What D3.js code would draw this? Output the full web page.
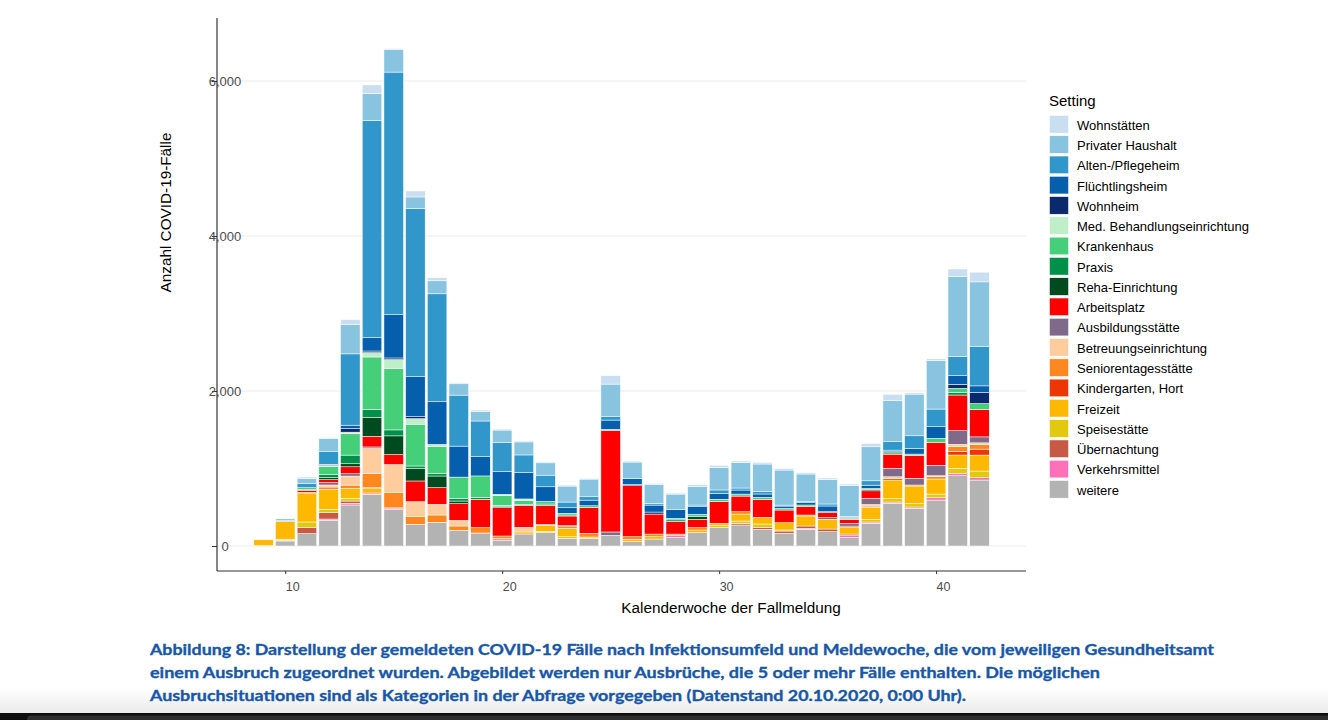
<!DOCTYPE html>
<html lang="de">
<head>
<meta charset="UTF-8">
<title>COVID-19 Ausbrüche nach Setting</title>
<script src="https://d3js.org/d3.v7.min.js"></script>
<style>
  body { margin: 0; background: #fff; }
  svg { display: block; font-family: "Liberation Sans", Arial, sans-serif; }
  .tick-lab { fill: #4d4d4d; }
  .caption { font-family: Lato, "Open Sans", sans-serif; font-weight: bold; fill: #1857a7; stroke: #1857a7; stroke-width: 0.35; }
</style>
</head>
<body>
<div id="chart"></div>
<script>
// Kalenderwochen 9..42
const weeks = d3.range(9, 43);

const settings = ["weitere", "Verkehrsmittel", "Übernachtung", "Speisestätte", "Freizeit",
  "Kindergarten, Hort", "Seniorentagesstätte", "Betreuungseinrichtung", "Ausbildungsstätte",
  "Arbeitsplatz", "Reha-Einrichtung", "Praxis", "Krankenhaus", "Med. Behandlungseinrichtung",
  "Wohnheim", "Flüchtlingsheim", "Alten-/Pflegeheim", "Privater Haushalt", "Wohnstätten"];

const settingColors = ["#b3b3b3", "#fe70b8", "#c75a44", "#e2c80e", "#ffb800",
  "#ee3602", "#fe8720", "#ffcc9e", "#806a89",
  "#fe0000", "#004a1f", "#01904a", "#46cf79", "#c0eec9",
  "#0b2a6e", "#065fad", "#3196ca", "#88c4e0", "#c9def1"];

// Fälle je Woche (Index 0 = KW 9)
const weitere        = [5,65,160,331,529,667,469,280,305,202, 159,69,155,172,99,99,138,56,90,112, 172,237,271,215,163,215,185,112,292,550, 486,593,907,851];
const verkehrsmittel = [0,0,0,17,21,17,13,0,0,0, 0,10,0,0,0,0,0,0,0,21, 0,0,0,0,0,13,0,21,17,17, 17,30,30,30];
const uebernachtung  = [0,8,77,82,30,0,10,0,0,0, 9,16,0,0,0,0,0,0,0,0, 0,0,21,26,30,30,34,21,0,0, 0,0,0,0];
const speisestaette  = [0,15,73,43,34,0,0,0,0,0, 0,0,0,17,21,17,0,0,0,0, 0,26,30,43,13,0,0,0,34,43, 43,47,65,86];
const freizeit       = [75,232,374,258,129,60,0,0,0,0, 0,0,26,77,108,0,0,30,30,0, 34,30,90,86,95,129,125,86,155,241, 228,194,172,206];
const kindergarten   = [0,0,8,0,0,9,0,0,0,0, 0,0,0,0,0,0,0,0,0,0, 0,0,0,0,0,0,0,17,0,21, 0,0,43,77];
const senioren       = [0,0,0,30,43,181,202,103,95,56, 69,34,0,13,21,47,0,34,34,21, 30,0,30,0,0,13,0,0,17,0, 13,30,65,60];
const betreuung      = [0,0,0,26,116,323,357,189,138,73, 0,0,60,0,0,0,0,0,0,0, 0,0,0,0,0,0,0,0,21,21, 0,13,30,21];
const ausbildung     = [0,0,0,30,30,21,0,0,0,0, 0,0,0,0,13,0,43,0,0,0, 0,0,0,0,0,0,21,34,77,108, 86,133,176,77];
const arbeitsplatz   = [0,0,26,39,90,138,129,267,215,215, 366,366,284,245,125,335,1307,658,258,163, 108,280,202,232,163,108,65,52,99,181, 292,297,460,353];
const reha           = [0,0,0,26,39,241,241,159,150,34, 0,15,0,0,0,0,0,0,0,0, 34,0,0,0,0,0,0,0,17,17, 0,0,0,0];
const praxis         = [0,0,12,43,112,103,77,34,30,34, 21,15,13,17,13,0,0,0,0,20, 0,0,0,0,0,0,13,0,0,0, 0,0,30,0];
const krankenhaus    = [0,0,22,103,275,679,791,538,348,275, 280,129,52,34,21,21,17,0,0,19, 30,30,26,26,21,21,0,13,13,17, 21,52,56,77];
const medBehandlung  = [0,0,0,8,21,56,116,73,30,0, 0,13,17,0,0,0,0,0,0,0, 0,0,0,0,0,0,0,0,0,0, 0,0,0,0];
const wohnheim       = [0,0,0,9,47,21,21,26,0,0, 0,0,0,0,0,0,0,17,26,0, 0,0,0,0,0,0,0,0,0,0, 0,0,52,142];
const fluechtling    = [0,0,0,8,43,172,559,516,550,400, 249,292,340,189,73,73,120,77,90,116, 99,77,52,43,30,30,73,13,43,21, 73,150,112,86];
const altenheim      = [0,8,52,163,920,2805,3130,2168,1393,658, 460,374,228,150,73,43,43,0,21,0, 21,43,26,30,13,13,26,13,56,108, 163,228,245,512];
const privHaushalt   = [0,22,69,172,378,344,288,151,168,146, 120,163,168,159,206,228,421,211,245,198, 237,288,327,357,452,357,318,396,439,529, 538,624,1032,830];
const wohnstaetten   = [0,0,17,8,65,112,15,77,39,13, 21,13,13,13,13,9,108,13,13,13, 26,30,21,21,21,17,17,21,43,82, 17,26,99,125];

const series = [weitere, verkehrsmittel, uebernachtung, speisestaette, freizeit, kindergarten,
  senioren, betreuung, ausbildung, arbeitsplatz, reha, praxis, krankenhaus, medBehandlung,
  wohnheim, fluechtling, altenheim, privHaushalt, wohnstaetten];

const yTicks = [0, 2000, 4000, 6000];
const xTicks = [10, 20, 30, 40];

const captionLines = [
  "Abbildung 8: Darstellung der gemeldeten COVID-19 Fälle nach Infektionsumfeld und Meldewoche, die vom jeweiligen Gesundheitsamt",
  "einem Ausbruch zugeordnet wurden. Abgebildet werden nur Ausbrüche, die 5 oder mehr Fälle enthalten. Die möglichen",
  "Ausbruchsituationen sind als Kategorien in der Abfrage vorgegeben (Datenstand 20.10.2020, 0:00 Uhr)."
];
const captionWidths = [1064, 950, 816];

// table for d3.stack
const table = weeks.map((w, i) => {
  const row = { week: w };
  settings.forEach((s, k) => { row[s] = series[k][i]; });
  return row;
});

const W = 1328, H = 720;
const panel = { left: 217, right: 1026, top: 18, bottom: 571 };

const svg = d3.select("#chart").append("svg")
  .attr("width", W).attr("height", H);

// page background with the grey fade at the bottom
const defs = svg.append("defs");
const grad = defs.append("linearGradient").attr("id", "fade")
  .attr("x1", 0).attr("y1", 0).attr("x2", 0).attr("y2", 1);
grad.append("stop").attr("offset", "0%").attr("stop-color", "#ffffff");
grad.append("stop").attr("offset", "100%").attr("stop-color", "#e9e9e9");
svg.append("rect").attr("x", 0).attr("y", 0).attr("width", W).attr("height", H).attr("fill", "#fff");
svg.append("rect").attr("x", 0).attr("y", 688).attr("width", W).attr("height", 26).attr("fill", "url(#fade)");
svg.append("rect").attr("x", 0).attr("y", 713).attr("width", W).attr("height", 7).attr("fill", "#0c0c0c");
svg.append("rect").attr("x", 27).attr("y", 715.5).attr("width", W).attr("height", 10).attr("rx", 4).attr("fill", "#2d2d2d");

const x = d3.scaleLinear().domain([6.855, 44.145]).range([panel.left, panel.right]);
const y = d3.scaleLinear().domain([0, 6000]).range([546, 81]);
const bw = (x(1) - x(0)) * 0.9;

// grid
svg.append("g").selectAll("line").data(yTicks).enter().append("line")
  .attr("x1", panel.left).attr("x2", panel.right)
  .attr("y1", d => y(d)).attr("y2", d => y(d))
  .attr("stroke", "#ebebeb").attr("stroke-width", 1);

// stacked bars
const stack = d3.stack().keys(settings)(table);
const color = d3.scaleOrdinal().domain(settings).range(settingColors);

svg.append("g").selectAll("g").data(stack).enter().append("g")
  .attr("fill", d => color(d.key))
  .selectAll("rect").data(d => d.filter(p => p[1] > p[0])).enter().append("rect")
  .attr("x", d => x(d.data.week) - bw / 2)
  .attr("width", bw)
  .attr("y", d => y(d[1]))
  .attr("height", d => y(d[0]) - y(d[1]))
  .attr("stroke", "#fff")
  .attr("stroke-width", 0.5);

// axes (ggplot-like, drawn with d3 axis generators)
const yAxis = svg.append("g").attr("transform", `translate(${panel.left},0)`)
  .call(d3.axisLeft(y).tickValues(yTicks).tickSize(5).tickFormat(d3.format(",")));
yAxis.select(".domain").remove();
yAxis.selectAll(".tick line").attr("stroke", "#333");
yAxis.selectAll(".tick text").attr("class", "tick-lab")
  .attr("font-size", 13).attr("text-anchor", "middle").attr("x", 8).attr("dy", "0.36em")
  .attr("font-family", "Liberation Sans, Arial, sans-serif");
svg.append("line").attr("x1", panel.left).attr("x2", panel.left)
  .attr("y1", panel.top).attr("y2", panel.bottom).attr("stroke", "#222").attr("stroke-width", 1.1);

const xAxis = svg.append("g").attr("transform", `translate(0,${panel.bottom})`)
  .call(d3.axisBottom(x).tickValues(xTicks).tickSize(3));
xAxis.select(".domain").remove();
xAxis.selectAll(".tick line").attr("stroke", "#333");
xAxis.selectAll(".tick text").attr("class", "tick-lab")
  .attr("font-size", 12.5).attr("text-anchor", "start").attr("y", 20).attr("dy", 0)
  .attr("font-family", "Liberation Sans, Arial, sans-serif");
svg.append("line").attr("x1", panel.left).attr("x2", panel.right)
  .attr("y1", panel.bottom).attr("y2", panel.bottom).attr("stroke", "#333").attr("stroke-width", 1.1);

// axis titles
svg.append("text")
  .attr("x", 731).attr("y", 613)
  .attr("text-anchor", "middle").attr("font-size", 15.3).attr("fill", "#000")
  .text("Kalenderwoche der Fallmeldung");

svg.append("text")
  .attr("transform", "translate(170.5,212.5) rotate(-90)")
  .attr("text-anchor", "middle").attr("font-size", 15.3).attr("fill", "#000")
  .text("Anzahl COVID-19-Fälle");

// legend (top entry = last stacked layer)
const legend = svg.append("g").attr("transform", "translate(1049,1.5)");
legend.append("text").attr("x", 0).attr("y", 104).attr("font-size", 15).attr("fill", "#000").text("Setting");
const legendOrder = settings.slice().reverse();
const rows = legend.selectAll("g.row").data(legendOrder).enter().append("g")
  .attr("class", "row")
  .attr("transform", (d, i) => `translate(0,${114 + i * 20.28})`);
rows.append("rect").attr("x", 0.5).attr("y", 0).attr("width", 19).attr("height", 17.6)
  .attr("fill", d => color(d)).attr("stroke", "#fff").attr("stroke-width", 0.5);
rows.append("text").attr("x", 28).attr("y", 14.2).attr("font-size", 13).attr("fill", "#000")
  .text(d => d);

// caption
svg.append("g").selectAll("text").data(captionLines).enter().append("text")
  .attr("class", "caption")
  .attr("x", 150).attr("y", (d, i) => 655 + i * 23.2)
  .attr("font-size", 15.5)
  .attr("textLength", (d, i) => captionWidths[i])
  .attr("lengthAdjust", "spacingAndGlyphs")
  .text(d => d);
</script>
</body>
</html>
